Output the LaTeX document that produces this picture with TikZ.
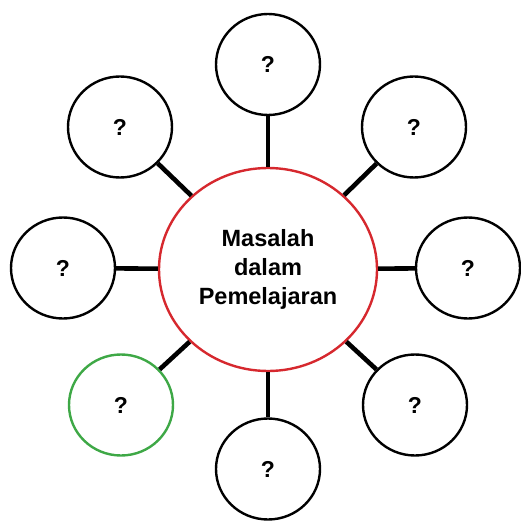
\documentclass[tikz,border=0pt]{standalone}
\usepackage{fontspec}
\setmainfont{Liberation Sans}
\usetikzlibrary{shapes.geometric}
\definecolor{midred}{RGB}{214,40,46}
\definecolor{qgreen}{RGB}{62,168,70}
\begin{document}
\begin{tikzpicture}[x=1pt,y=-1pt]
\useasboundingbox (0,0) rectangle (520,521);
\tikzset{
  qbox/.style={ellipse, draw, line width=2.4pt, minimum width=104pt, minimum height=101pt, inner sep=0pt, font=\fontsize{23}{27}\selectfont\bfseries},
  link/.style={line width=4.6pt}
}
\node[ellipse, draw=midred, line width=2.4pt, minimum width=218pt, minimum height=203pt, inner sep=0pt, align=center, font=\fontsize{23.5}{29}\selectfont\bfseries] (mid) at (268,269.5){Masalah\\dalam\\Pemelajaran};
\node[qbox] (q0) at (268,64.5){?};
\node[qbox] (q1) at (414,127){?};
\node[qbox] (q2) at (468,268){?};
\node[qbox] (q3) at (415,405){?};
\node[qbox] (q4) at (268,469){?};
\node[qbox, draw=qgreen] (q5) at (121,405){?};
\node[qbox] (q6) at (63,268){?};
\node[qbox] (q7) at (120,127){?};
\draw[link](mid) -- (q0);
\draw[link](mid) -- (q1);
\draw[link](mid) -- (q2);
\draw[link](mid) -- (q3);
\draw[link](mid) -- (q4);
\draw[link](mid) -- (q5);
\draw[link](mid) -- (q6);
\draw[link](mid) -- (q7);
\end{tikzpicture}
\end{document}
